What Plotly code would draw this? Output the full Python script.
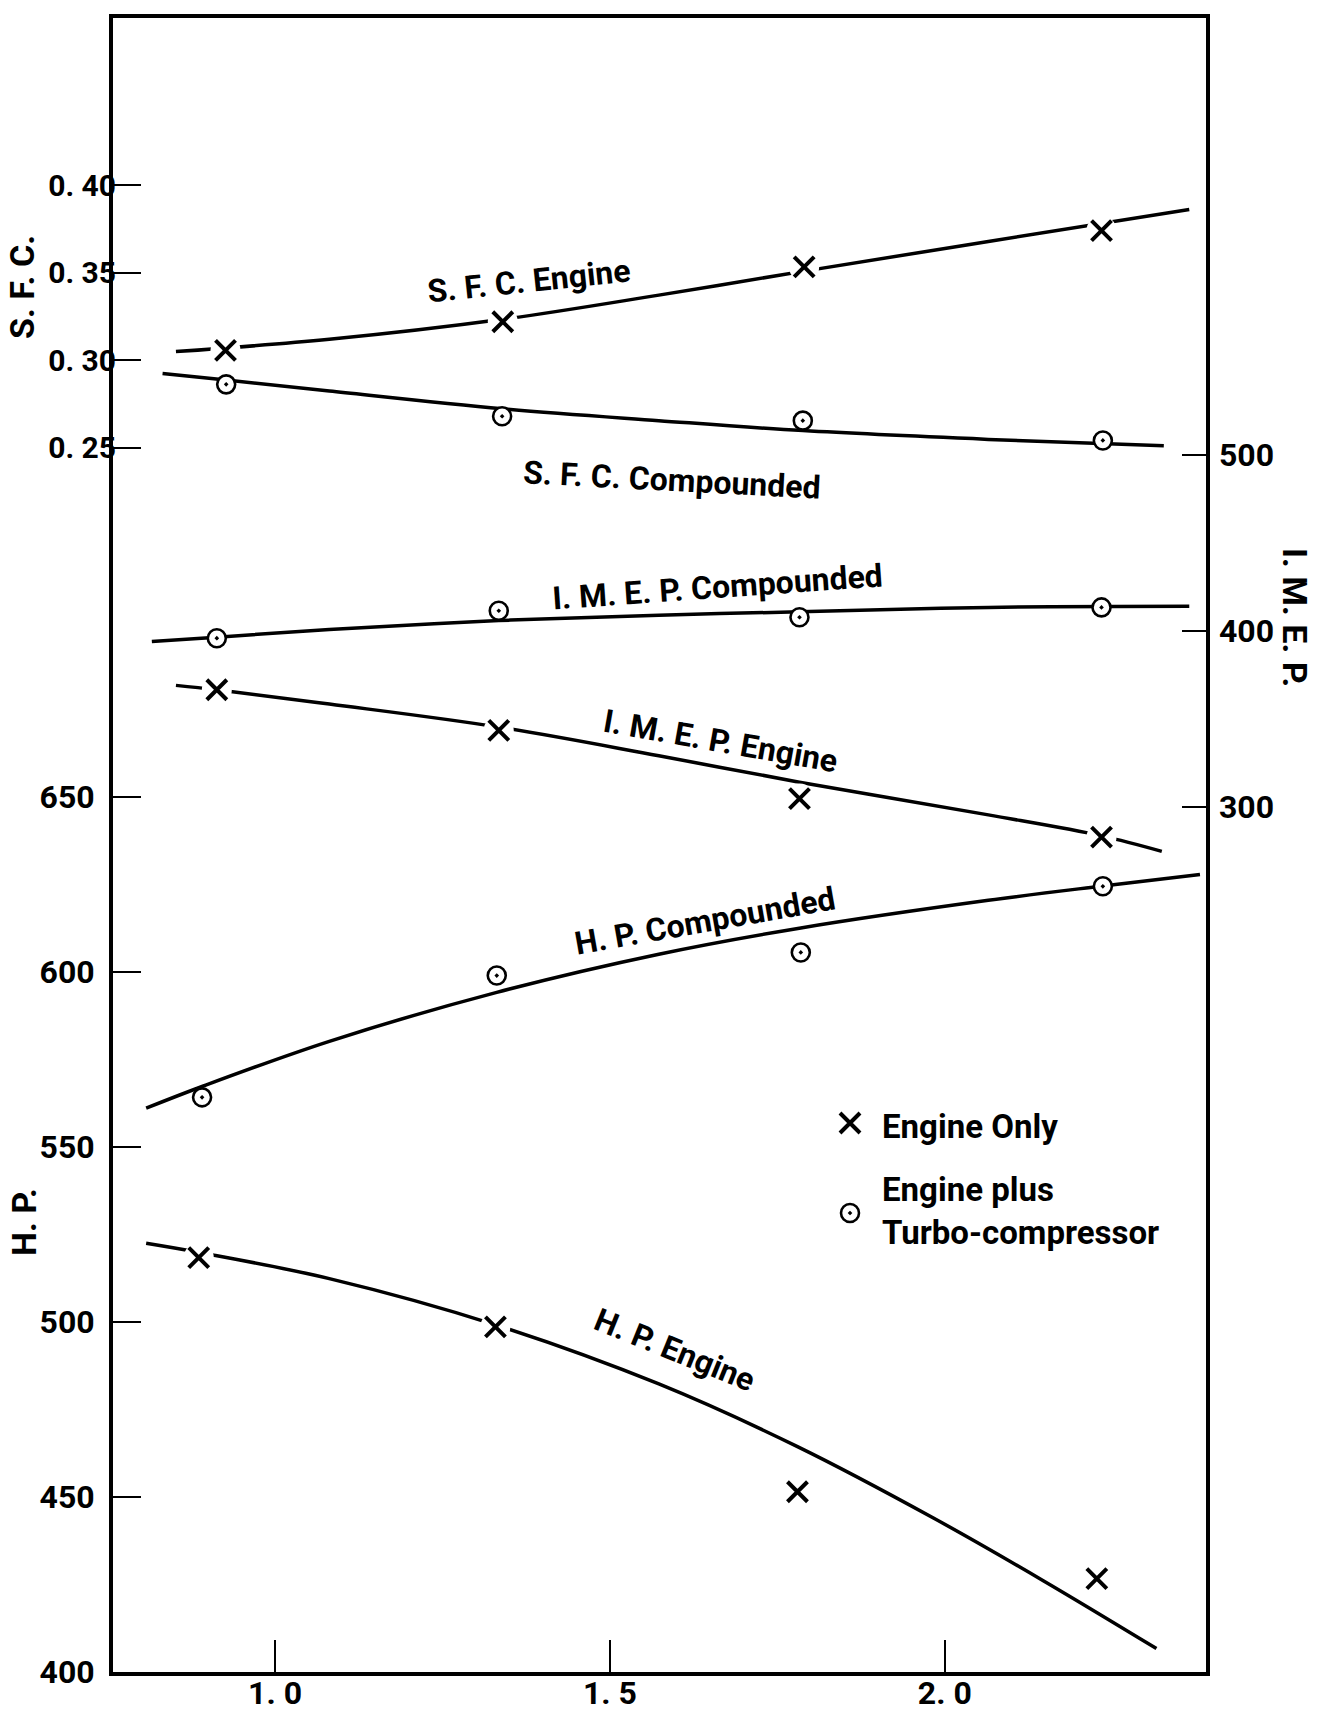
import plotly.graph_objects as go

# ---------------------------------------------------------------- data
# horizontal axis
x_range = [0.758, 2.390]
x_ticks = [1.0, 1.5, 2.0]
x_ticktext = ["1. 0", "1. 5", "2. 0"]

# left scales (H.P. and S.F.C.) and right scale (I.M.E.P.)
hp_range = [400, 872.6]
hp_ticks = [400, 450, 500, 550, 600, 650]
sfc_range = [-0.4483, 0.4953]
sfc_ticks = [0.25, 0.30, 0.35, 0.40]
sfc_ticktext = ["0. 25", "0. 30", "0. 35", "0. 40"]
imep_range = [-191.5, 748.3]
imep_ticks = [300, 400, 500]

# test points: engine only (x) and engine plus turbo-compressor (o)
sfc_eng_x = [0.926, 1.340, 1.790, 2.234]
sfc_eng_y = [0.3057, 0.3220, 0.3533, 0.3740]
sfc_cmp_x = [0.927, 1.339, 1.788, 2.236]
sfc_cmp_y = [0.2863, 0.2681, 0.2656, 0.2543]
imep_cmp_x = [0.913, 1.334, 1.783, 2.234]
imep_cmp_y = [395.9, 411.5, 407.8, 413.4]
imep_eng_x = [0.913, 1.334, 1.783, 2.234]
imep_eng_y = [366.6, 343.5, 304.8, 282.9]
hp_cmp_x = [0.891, 1.331, 1.785, 2.236]
hp_cmp_y = [564.2, 599.0, 605.6, 624.5]
hp_eng_x = [0.886, 1.329, 1.780, 2.227]
hp_eng_y = [518.4, 498.6, 451.5, 426.7]

# faired curves
sfc_eng_cx = [0.852, 1.081, 1.340, 1.573, 1.790, 2.065, 2.365]
sfc_eng_cy = [0.3050, 0.3120, 0.3234, 0.3372, 0.3509, 0.3678, 0.3861]
sfc_cmp_cx = [0.832, 0.927, 1.081, 1.339, 1.573, 1.788, 2.065, 2.327]
sfc_cmp_cy = [0.2925, 0.2888, 0.2825, 0.2724, 0.2656, 0.2599, 0.2549, 0.2512]
imep_cmp_cx = [0.816, 0.913, 1.081, 1.334, 1.573, 1.783, 2.065, 2.365]
imep_cmp_cy = [394.0, 396.5, 400.9, 405.9, 409.0, 410.9, 413.4, 414.0]
imep_eng_cx = [0.852, 0.913, 1.081, 1.334, 1.573, 1.783, 2.065, 2.234, 2.324]
imep_eng_cy = [369.1, 366.6, 358.5, 345.4, 329.1, 314.1, 295.5, 283.6, 274.8]
hp_cmp_cx = [0.8075, 0.891, 1.081, 1.331, 1.573, 1.785, 2.065, 2.236, 2.381]
hp_cmp_cy = [561.1, 567.3, 580.2, 594.2, 605.1, 612.6, 620.5, 624.6, 627.9]
hp_eng_cx = [0.8075, 0.886, 1.081, 1.329, 1.573, 1.780, 1.983, 2.147, 2.316]
hp_eng_cy = [522.5, 519.9, 512.4, 499.2, 482.3, 464.4, 444.0, 426.1, 406.7]

curve_labels = [
    ("S. F. C. Engine", 529, 281, -6),
    ("S. F. C. Compounded", 672, 480, 3),
    ("I. M. E. P. Compounded", 717, 587, -4),
    ("I. M. E. P. Engine", 720, 741, 10),
    ("H. P. Compounded", 705, 921, -10),
    ("H. P. Engine", 675, 1350, 22),
]

# ---------------------------------------------------------------- layout geometry
W, H = 1328, 1722
L, R, T, B = 113, 1206, 18, 1672
FONT = "Roboto, Liberation Sans, sans-serif"


def px(xp):
    return (xp - L) / (R - L)


def py(yp):
    return (B - yp) / (B - T)


fig = go.Figure()

LINE = dict(color="black", width=3.5, shape="spline", smoothing=1.0)


def curve(cx, cy, yaxis):
    fig.add_trace(go.Scatter(x=cx, y=cy, mode="lines", line=LINE,
                             yaxis=yaxis, hoverinfo="skip", showlegend=False))


def crosses(x, y, yaxis):
    # white disc behind each cross breaks the faired line around it
    fig.add_trace(go.Scatter(x=x, y=y, mode="markers", yaxis=yaxis,
                             marker=dict(symbol="circle", size=30, color="white",
                                         line=dict(width=0)),
                             hoverinfo="skip", showlegend=False))
    fig.add_trace(go.Scatter(x=x, y=y, mode="markers", yaxis=yaxis,
                             marker=dict(symbol="x-thin", size=20,
                                         line=dict(width=4, color="black")),
                             showlegend=False))


def rings(x, y, yaxis):
    fig.add_trace(go.Scatter(x=x, y=y, mode="markers", yaxis=yaxis,
                             marker=dict(symbol="circle-dot", size=18, color="white",
                                         line=dict(width=2.6, color="black")),
                             showlegend=False))


curve(sfc_eng_cx, sfc_eng_cy, "y2")
curve(sfc_cmp_cx, sfc_cmp_cy, "y2")
curve(imep_cmp_cx, imep_cmp_cy, "y3")
curve(imep_eng_cx, imep_eng_cy, "y3")
curve(hp_cmp_cx, hp_cmp_cy, "y")
curve(hp_eng_cx, hp_eng_cy, "y")

crosses(sfc_eng_x, sfc_eng_y, "y2")
rings(sfc_cmp_x, sfc_cmp_y, "y2")
rings(imep_cmp_x, imep_cmp_y, "y3")
crosses(imep_eng_x, imep_eng_y, "y3")
rings(hp_cmp_x, hp_cmp_y, "y")
crosses(hp_eng_x, hp_eng_y, "y")

# legend keys on a unit overlay axis pair
fig.add_trace(go.Scatter(x=[px(850)], y=[py(1123)], xaxis="x2", yaxis="y4",
                         mode="markers",
                         marker=dict(symbol="x-thin", size=20,
                                     line=dict(width=4, color="black")),
                         showlegend=False))
fig.add_trace(go.Scatter(x=[px(850)], y=[py(1213)], xaxis="x2", yaxis="y4",
                         mode="markers",
                         marker=dict(symbol="circle-dot", size=18, color="white",
                                     line=dict(width=2.6, color="black")),
                         showlegend=False))

tickfont = dict(family=FONT, size=32, color="black", weight="bold")
sfcfont = dict(family=FONT, size=30, color="black", weight="bold")
textfont = dict(family=FONT, size=32, color="black", weight="bold")
legendfont = dict(family=FONT, size=33, color="black", weight="bold")
titlefont = dict(family=FONT, size=34, color="black", weight="bold")

annotations = []
for text, xp, yp, ang in curve_labels:
    annotations.append(dict(text=text, x=px(xp), y=py(yp), xref="paper", yref="paper",
                            xanchor="center", yanchor="middle", textangle=ang,
                            showarrow=False, font=textfont))

annotations += [
    dict(text="Engine Only", x=px(880), y=py(1126), xref="paper", yref="paper",
         xanchor="left", yanchor="middle", showarrow=False, font=legendfont),
    dict(text="Engine plus<br>Turbo-compressor", x=px(880), y=py(1211),
         xref="paper", yref="paper", xanchor="left", yanchor="middle", align="left",
         showarrow=False, font=legendfont),
    dict(text="S. F. C.", x=px(22), y=py(287), xref="paper", yref="paper",
         xanchor="center", yanchor="middle", textangle=-90, showarrow=False,
         font=titlefont),
    dict(text="H. P.", x=px(24), y=py(1222), xref="paper", yref="paper",
         xanchor="center", yanchor="middle", textangle=-90, showarrow=False,
         font=titlefont),
    dict(text="I. M. E. P.", x=px(1295), y=py(617), xref="paper", yref="paper",
         xanchor="center", yanchor="middle", textangle=90, showarrow=False,
         font=titlefont),
]

fig.update_layout(
    width=W, height=H,
    margin=dict(l=L, r=W - R, t=T, b=H - B, pad=0),
    paper_bgcolor="white", plot_bgcolor="white",
    showlegend=False,
    xaxis=dict(range=x_range, tickvals=x_ticks, ticktext=x_ticktext,
               ticks="inside", ticklen=32, tickwidth=2.2, tickcolor="black",
               showline=True, mirror=True, linewidth=4, linecolor="black",
               showgrid=False, zeroline=False, tickfont=tickfont,
               ticklabelstandoff=-10, automargin=False, fixedrange=True),
    yaxis=dict(range=hp_range, tickvals=hp_ticks,
               ticks="inside", ticklen=28, tickwidth=2.4, tickcolor="black",
               showline=True, mirror=True, linewidth=4, linecolor="black",
               showgrid=False, zeroline=False, tickfont=tickfont,
               ticklabelstandoff=8, automargin=False),
    yaxis2=dict(range=sfc_range, tickvals=sfc_ticks, ticktext=sfc_ticktext,
                overlaying="y", anchor="x", side="left",
                ticks="inside", ticklen=28, tickwidth=2.4, tickcolor="black",
                showline=False, showgrid=False, zeroline=False, tickfont=sfcfont,
                ticklabelstandoff=-4, automargin=False),
    yaxis3=dict(range=imep_range, tickvals=imep_ticks,
                overlaying="y", anchor="x", side="right",
                ticks="inside", ticklen=24, tickwidth=2.4, tickcolor="black",
                showline=False, showgrid=False, zeroline=False, tickfont=tickfont,
                ticklabelstandoff=12, automargin=False),
    xaxis2=dict(range=[0, 1], overlaying="x", visible=False),
    yaxis4=dict(range=[0, 1], overlaying="y", anchor="x2", visible=False),
    annotations=annotations,
)

fig.write_html("out.html")
